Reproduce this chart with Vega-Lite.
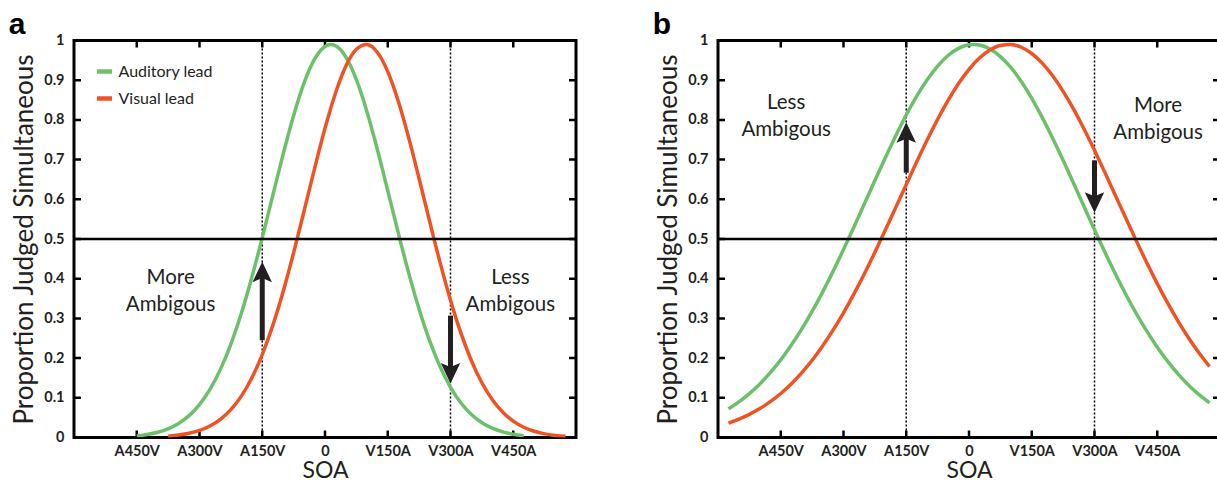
{
  "$schema": "https://vega.github.io/schema/vega-lite/v6.json",
  "padding": {"left": 8, "top": 9.5, "right": 0, "bottom": 0},
  "background": "white",
  "config": {
    "view": {"stroke": null},
    "axis": {
      "domain": false, "grid": false, "ticks": false,
      "labelFont": "Lato", "labelFontWeight": "bold", "labelFontSize": 14.5, "labelColor": "#231f20",
      "titleFont": "Lato", "titleFontWeight": "normal", "titleColor": "#231f20"
    },
    "title": {"font": "Liberation Sans", "fontSize": 30, "fontWeight": "bold", "color": "#000", "anchor": "start", "frame": "bounds", "offset": -7, "dx": -3}
  },
  "datasets": {
    "curves": [
      {"p":"a","s":"Auditory lead","x":-450,"y":0.0044},{"p":"a","s":"Auditory lead","x":-425,"y":0.0078},{"p":"a","s":"Auditory lead","x":-400,"y":0.0133},{"p":"a","s":"Auditory lead","x":-375,"y":0.022},{"p":"a","s":"Auditory lead","x":-350,"y":0.0354},{"p":"a","s":"Auditory lead","x":-325,"y":0.055},{"p":"a","s":"Auditory lead","x":-300,"y":0.0829},{"p":"a","s":"Auditory lead","x":-275,"y":0.1212},{"p":"a","s":"Auditory lead","x":-250,"y":0.1716},{"p":"a","s":"Auditory lead","x":-225,"y":0.2353},{"p":"a","s":"Auditory lead","x":-200,"y":0.3129},{"p":"a","s":"Auditory lead","x":-175,"y":0.4031},{"p":"a","s":"Auditory lead","x":-150,"y":0.5033},{"p":"a","s":"Auditory lead","x":-125,"y":0.609},{"p":"a","s":"Auditory lead","x":-100,"y":0.714},{"p":"a","s":"Auditory lead","x":-75,"y":0.8112},{"p":"a","s":"Auditory lead","x":-50,"y":0.8931},{"p":"a","s":"Auditory lead","x":-25,"y":0.9529},{"p":"a","s":"Auditory lead","x":0,"y":0.9851},{"p":"a","s":"Auditory lead","x":12.5,"y":0.99},{"p":"a","s":"Auditory lead","x":25,"y":0.987},{"p":"a","s":"Auditory lead","x":50,"y":0.9582},{"p":"a","s":"Auditory lead","x":75,"y":0.9016},{"p":"a","s":"Auditory lead","x":100,"y":0.822},{"p":"a","s":"Auditory lead","x":125,"y":0.7262},{"p":"a","s":"Auditory lead","x":150,"y":0.6218},{"p":"a","s":"Auditory lead","x":175,"y":0.5159},{"p":"a","s":"Auditory lead","x":200,"y":0.4147},{"p":"a","s":"Auditory lead","x":225,"y":0.3231},{"p":"a","s":"Auditory lead","x":250,"y":0.2439},{"p":"a","s":"Auditory lead","x":275,"y":0.1785},{"p":"a","s":"Auditory lead","x":300,"y":0.1265},{"p":"a","s":"Auditory lead","x":325,"y":0.0869},{"p":"a","s":"Auditory lead","x":350,"y":0.0579},{"p":"a","s":"Auditory lead","x":375,"y":0.0373},{"p":"a","s":"Auditory lead","x":400,"y":0.0234},{"p":"a","s":"Auditory lead","x":425,"y":0.0141},{"p":"a","s":"Auditory lead","x":450,"y":0.0083},{"p":"a","s":"Auditory lead","x":475,"y":0.0047},
      {"p":"a","s":"Visual lead","x":-375,"y":0.0034},{"p":"a","s":"Visual lead","x":-350,"y":0.0061},{"p":"a","s":"Visual lead","x":-325,"y":0.0105},{"p":"a","s":"Visual lead","x":-300,"y":0.0178},{"p":"a","s":"Visual lead","x":-275,"y":0.029},{"p":"a","s":"Visual lead","x":-250,"y":0.0459},{"p":"a","s":"Visual lead","x":-225,"y":0.0703},{"p":"a","s":"Visual lead","x":-200,"y":0.1043},{"p":"a","s":"Visual lead","x":-175,"y":0.15},{"p":"a","s":"Visual lead","x":-150,"y":0.2088},{"p":"a","s":"Visual lead","x":-125,"y":0.2817},{"p":"a","s":"Visual lead","x":-100,"y":0.3679},{"p":"a","s":"Visual lead","x":-75,"y":0.4654},{"p":"a","s":"Visual lead","x":-50,"y":0.5705},{"p":"a","s":"Visual lead","x":-25,"y":0.6773},{"p":"a","s":"Visual lead","x":0,"y":0.7788},{"p":"a","s":"Visual lead","x":25,"y":0.8673},{"p":"a","s":"Visual lead","x":50,"y":0.9358},{"p":"a","s":"Visual lead","x":75,"y":0.9778},{"p":"a","s":"Visual lead","x":100,"y":0.9898},{"p":"a","s":"Visual lead","x":125,"y":0.9704},{"p":"a","s":"Visual lead","x":150,"y":0.9216},{"p":"a","s":"Visual lead","x":175,"y":0.8476},{"p":"a","s":"Visual lead","x":200,"y":0.7553},{"p":"a","s":"Visual lead","x":225,"y":0.6518},{"p":"a","s":"Visual lead","x":250,"y":0.5449},{"p":"a","s":"Visual lead","x":275,"y":0.4411},{"p":"a","s":"Visual lead","x":300,"y":0.346},{"p":"a","s":"Visual lead","x":325,"y":0.2628},{"p":"a","s":"Visual lead","x":350,"y":0.1934},{"p":"a","s":"Visual lead","x":375,"y":0.1378},{"p":"a","s":"Visual lead","x":400,"y":0.0951},{"p":"a","s":"Visual lead","x":425,"y":0.0637},{"p":"a","s":"Visual lead","x":450,"y":0.0412},{"p":"a","s":"Visual lead","x":475,"y":0.0259},{"p":"a","s":"Visual lead","x":500,"y":0.0157},{"p":"a","s":"Visual lead","x":525,"y":0.0092},{"p":"a","s":"Visual lead","x":550,"y":0.0053},{"p":"a","s":"Visual lead","x":575,"y":0.0029},
      {"p":"b","s":"Auditory lead","x":-575,"y":0.0721},{"p":"b","s":"Auditory lead","x":-550,"y":0.0897},{"p":"b","s":"Auditory lead","x":-525,"y":0.1106},{"p":"b","s":"Auditory lead","x":-500,"y":0.135},{"p":"b","s":"Auditory lead","x":-475,"y":0.1634},{"p":"b","s":"Auditory lead","x":-450,"y":0.1956},{"p":"b","s":"Auditory lead","x":-425,"y":0.2322},{"p":"b","s":"Auditory lead","x":-400,"y":0.2728},{"p":"b","s":"Auditory lead","x":-375,"y":0.3176},{"p":"b","s":"Auditory lead","x":-350,"y":0.3663},{"p":"b","s":"Auditory lead","x":-325,"y":0.4184},{"p":"b","s":"Auditory lead","x":-300,"y":0.4733},{"p":"b","s":"Auditory lead","x":-275,"y":0.5303},{"p":"b","s":"Auditory lead","x":-250,"y":0.5888},{"p":"b","s":"Auditory lead","x":-225,"y":0.6473},{"p":"b","s":"Auditory lead","x":-200,"y":0.7049},{"p":"b","s":"Auditory lead","x":-175,"y":0.7603},{"p":"b","s":"Auditory lead","x":-150,"y":0.8124},{"p":"b","s":"Auditory lead","x":-125,"y":0.8597},{"p":"b","s":"Auditory lead","x":-100,"y":0.9012},{"p":"b","s":"Auditory lead","x":-75,"y":0.9357},{"p":"b","s":"Auditory lead","x":-50,"y":0.9623},{"p":"b","s":"Auditory lead","x":-25,"y":0.9803},{"p":"b","s":"Auditory lead","x":0,"y":0.9891},{"p":"b","s":"Auditory lead","x":12,"y":0.99},{"p":"b","s":"Auditory lead","x":25,"y":0.9885},{"p":"b","s":"Auditory lead","x":50,"y":0.9786},{"p":"b","s":"Auditory lead","x":75,"y":0.9595},{"p":"b","s":"Auditory lead","x":100,"y":0.932},{"p":"b","s":"Auditory lead","x":125,"y":0.8966},{"p":"b","s":"Auditory lead","x":150,"y":0.8543},{"p":"b","s":"Auditory lead","x":175,"y":0.8064},{"p":"b","s":"Auditory lead","x":200,"y":0.7539},{"p":"b","s":"Auditory lead","x":225,"y":0.6981},{"p":"b","s":"Auditory lead","x":250,"y":0.6403},{"p":"b","s":"Auditory lead","x":275,"y":0.5817},{"p":"b","s":"Auditory lead","x":300,"y":0.5235},{"p":"b","s":"Auditory lead","x":325,"y":0.4666},{"p":"b","s":"Auditory lead","x":350,"y":0.4119},{"p":"b","s":"Auditory lead","x":375,"y":0.3603},{"p":"b","s":"Auditory lead","x":400,"y":0.3121},{"p":"b","s":"Auditory lead","x":425,"y":0.2678},{"p":"b","s":"Auditory lead","x":450,"y":0.2275},{"p":"b","s":"Auditory lead","x":475,"y":0.1916},{"p":"b","s":"Auditory lead","x":500,"y":0.1597},{"p":"b","s":"Auditory lead","x":525,"y":0.1319},{"p":"b","s":"Auditory lead","x":550,"y":0.1079},{"p":"b","s":"Auditory lead","x":575,"y":0.0874},
      {"p":"b","s":"Visual lead","x":-575,"y":0.0361},{"p":"b","s":"Visual lead","x":-550,"y":0.0461},{"p":"b","s":"Visual lead","x":-525,"y":0.0582},{"p":"b","s":"Visual lead","x":-500,"y":0.0728},{"p":"b","s":"Visual lead","x":-475,"y":0.0903},{"p":"b","s":"Visual lead","x":-450,"y":0.1109},{"p":"b","s":"Visual lead","x":-425,"y":0.135},{"p":"b","s":"Visual lead","x":-400,"y":0.1629},{"p":"b","s":"Visual lead","x":-375,"y":0.1945},{"p":"b","s":"Visual lead","x":-350,"y":0.2304},{"p":"b","s":"Visual lead","x":-325,"y":0.2703},{"p":"b","s":"Visual lead","x":-300,"y":0.314},{"p":"b","s":"Visual lead","x":-275,"y":0.3616},{"p":"b","s":"Visual lead","x":-250,"y":0.4125},{"p":"b","s":"Visual lead","x":-225,"y":0.4664},{"p":"b","s":"Visual lead","x":-200,"y":0.5224},{"p":"b","s":"Visual lead","x":-175,"y":0.5797},{"p":"b","s":"Visual lead","x":-150,"y":0.6374},{"p":"b","s":"Visual lead","x":-125,"y":0.6944},{"p":"b","s":"Visual lead","x":-100,"y":0.7494},{"p":"b","s":"Visual lead","x":-75,"y":0.8014},{"p":"b","s":"Visual lead","x":-50,"y":0.8492},{"p":"b","s":"Visual lead","x":-25,"y":0.8916},{"p":"b","s":"Visual lead","x":0,"y":0.9273},{"p":"b","s":"Visual lead","x":25,"y":0.9557},{"p":"b","s":"Visual lead","x":50,"y":0.9759},{"p":"b","s":"Visual lead","x":75,"y":0.9873},{"p":"b","s":"Visual lead","x":100,"y":0.9897},{"p":"b","s":"Visual lead","x":125,"y":0.983},{"p":"b","s":"Visual lead","x":150,"y":0.9673},{"p":"b","s":"Visual lead","x":175,"y":0.9431},{"p":"b","s":"Visual lead","x":200,"y":0.9111},{"p":"b","s":"Visual lead","x":225,"y":0.872},{"p":"b","s":"Visual lead","x":250,"y":0.827},{"p":"b","s":"Visual lead","x":275,"y":0.777},{"p":"b","s":"Visual lead","x":300,"y":0.7233},{"p":"b","s":"Visual lead","x":325,"y":0.6672},{"p":"b","s":"Visual lead","x":350,"y":0.6097},{"p":"b","s":"Visual lead","x":375,"y":0.5521},{"p":"b","s":"Visual lead","x":400,"y":0.4953},{"p":"b","s":"Visual lead","x":425,"y":0.4402},{"p":"b","s":"Visual lead","x":450,"y":0.3877},{"p":"b","s":"Visual lead","x":475,"y":0.3383},{"p":"b","s":"Visual lead","x":500,"y":0.2925},{"p":"b","s":"Visual lead","x":525,"y":0.2506},{"p":"b","s":"Visual lead","x":550,"y":0.2127},{"p":"b","s":"Visual lead","x":575,"y":0.1788}
    ],
    "vlines": [
      {"p":"a","x":-150},{"p":"a","x":300},{"p":"b","x":-150},{"p":"b","x":300}
    ],
    "hlines": [
      {"p":"a","y":0.5},{"p":"b","y":0.5}
    ],
    "arrows": [
      {"p":"a","x":-150,"tail":0.245,"head":0.417,"dir":"up"},
      {"p":"a","x":300,"tail":0.307,"head":0.162,"dir":"down"},
      {"p":"b","x":-150,"tail":0.667,"head":0.768,"dir":"up"},
      {"p":"b","x":300,"tail":0.698,"head":0.592,"dir":"down"}
    ],
    "notes": [
      {"p":"a","x":-369,"y":0.403,"t":"More\nAmbigous"},
      {"p":"a","x":443,"y":0.403,"t":"Less\nAmbigous"},
      {"p":"b","x":-437,"y":0.842,"t":"Less\nAmbigous"},
      {"p":"b","x":452,"y":0.836,"t":"More\nAmbigous"}
    ]
  },
  "spacing": 142,
  "bounds": "flush",
  "resolve": {"scale": {"color": "independent"}, "legend": {"color": "independent"}},
  "hconcat": [
    {
      "width": 502, "height": 397,
      "title": {"text": "a"},
      "resolve": {"axis": {"x": "independent", "y": "independent"}},
      "layer": [
        {
          "data": {"values": [{"x0": -600, "x1": 600, "y0": 0, "y1": 1}]},
          "mark": {"type": "rect", "fill": null, "stroke": "#000000", "strokeWidth": 3},
          "encoding": {
            "x": {"field": "x0", "type": "quantitative", "axis": null},
            "x2": {"field": "x1"},
            "y": {"field": "y0", "type": "quantitative", "axis": null},
            "y2": {"field": "y1"}
          }
        },
        {
          "data": {"values": [{"v": -450}, {"v": -300}, {"v": -150}, {"v": 0}, {"v": 150}, {"v": 300}, {"v": 450}]},
          "mark": {"type": "tick", "orient": "vertical", "size": 14, "thickness": 2.5, "fill": "#000000", "opacity": 1, "clip": true},
          "encoding": {
            "x": {"field": "v", "type": "quantitative", "axis": null},
            "y": {"datum": 0, "type": "quantitative", "axis": null}
          }
        },
        {
          "data": {"values": [{"v": -450}, {"v": -300}, {"v": -150}, {"v": 0}, {"v": 150}, {"v": 300}, {"v": 450}]},
          "mark": {"type": "tick", "orient": "vertical", "size": 14, "thickness": 2.5, "fill": "#000000", "opacity": 1, "clip": true},
          "encoding": {
            "x": {"field": "v", "type": "quantitative", "axis": null},
            "y": {"datum": 1, "type": "quantitative", "axis": null}
          }
        },
        {
          "data": {"values": [{"v": 0.1}, {"v": 0.2}, {"v": 0.3}, {"v": 0.4}, {"v": 0.5}, {"v": 0.6}, {"v": 0.7}, {"v": 0.8}, {"v": 0.9}]},
          "mark": {"type": "tick", "orient": "horizontal", "size": 14, "thickness": 2.5, "fill": "#000000", "opacity": 1, "clip": true},
          "encoding": {
            "y": {"field": "v", "type": "quantitative", "axis": null},
            "x": {"datum": -600, "type": "quantitative", "axis": null}
          }
        },
        {
          "data": {"values": [{"v": 0.1}, {"v": 0.2}, {"v": 0.3}, {"v": 0.4}, {"v": 0.5}, {"v": 0.6}, {"v": 0.7}, {"v": 0.8}, {"v": 0.9}]},
          "mark": {"type": "tick", "orient": "horizontal", "size": 14, "thickness": 2.5, "fill": "#000000", "opacity": 1, "clip": true},
          "encoding": {
            "y": {"field": "v", "type": "quantitative", "axis": null},
            "x": {"datum": 600, "type": "quantitative", "axis": null}
          }
        },
        {
          "data": {"name": "vlines"},
          "transform": [{"filter": "datum.p === 'a'"}],
          "mark": {"type": "rule", "strokeWidth": 1.5, "strokeDash": [2, 2], "color": "#000"},
          "encoding": {
            "x": {"field": "x", "type": "quantitative", "scale": {"domain": [-600, 600], "nice": false, "zero": false}, "axis": null}
          }
        },
        {
          "data": {"name": "curves"},
          "transform": [{"filter": "datum.p === 'a'"}],
          "mark": {"type": "line", "strokeWidth": 3.5, "interpolate": "monotone", "clip": true},
          "encoding": {
            "x": {"field": "x", "type": "quantitative", "scale": {"domain": [-600, 600], "nice": false, "zero": false},
              "axis": {"orient": "bottom", "values": [-450, -300, -150, 0, 150, 300, 450], "labelPadding": 7, "title": "SOA", "titlePadding": 1, "titleFontSize": 23,
                "labelExpr": "datum.value < 0 ? 'A' + (-datum.value) + 'V' : (datum.value > 0 ? 'V' + datum.value + 'A' : '0')"}},
            "y": {"field": "y", "type": "quantitative", "scale": {"domain": [0, 1], "nice": false},
              "axis": {"orient": "left", "values": [0, 0.1, 0.2, 0.3, 0.4, 0.5, 0.6, 0.7, 0.8, 0.9, 1], "format": ".1~f", "labelPadding": 10, "title": "Proportion Judged Simultaneous", "titlePadding": 6, "titleFontSize": 26}},
            "color": {"field": "s", "type": "nominal",
              "scale": {"domain": ["Auditory lead", "Visual lead"], "range": ["#6cc06a", "#f05323"]},
              "legend": {"orient": "none", "legendX": 20.5, "legendY": 21, "title": null, "symbolType": "stroke", "symbolStrokeWidth": 4.5, "symbolSize": 225,
                "labelFont": "Lato", "labelFontSize": 16, "labelColor": "#231f20", "labelOffset": 4, "rowPadding": 8, "padding": 0}}
          }
        },
        {
          "data": {"name": "hlines"},
          "transform": [{"filter": "datum.p === 'a'"}],
          "mark": {"type": "rule", "strokeWidth": 2.5, "color": "#000"},
          "encoding": {
            "y": {"field": "y", "type": "quantitative", "scale": {"domain": [0, 1], "nice": false}, "axis": null}
          }
        },
        {
          "data": {"name": "arrows"},
          "transform": [{"filter": "datum.p === 'a'"}],
          "mark": {"type": "rule", "strokeWidth": 5, "color": "#231f20"},
          "encoding": {
            "x": {"field": "x", "type": "quantitative", "axis": null},
            "y": {"field": "tail", "type": "quantitative", "axis": null},
            "y2": {"field": "head"}
          }
        },
        {
          "data": {"name": "arrows"},
          "transform": [{"filter": "datum.p === 'a'"}],
          "mark": {"type": "point", "filled": true, "size": 420, "opacity": 1, "color": "#231f20", "strokeWidth": 0},
          "encoding": {
            "x": {"field": "x", "type": "quantitative", "axis": null},
            "y": {"field": "head", "type": "quantitative", "axis": null},
            "shape": {"field": "dir", "type": "nominal", "legend": null,
              "scale": {"domain": ["up", "down"], "range": ["M0,-1L0.95,1L0,0.6L-0.95,1Z", "M0,1L0.95,-1L0,-0.6L-0.95,-1Z"]}}
          }
        },
        {
          "data": {"name": "notes"},
          "transform": [{"filter": "datum.p === 'a'"}],
          "mark": {"type": "text", "font": "Lato", "fontSize": 20.5, "color": "#231f20", "align": "center", "baseline": "middle", "lineBreak": "\n", "lineHeight": 27},
          "encoding": {
            "x": {"field": "x", "type": "quantitative", "axis": null},
            "y": {"field": "y", "type": "quantitative", "axis": null},
            "text": {"field": "t"}
          }
        }
      ]
    },
    {
      "width": 502, "height": 397,
      "title": {"text": "b"},
      "resolve": {"axis": {"x": "independent", "y": "independent"}},
      "layer": [
        {
          "data": {"values": [{"x0": -600, "x1": 600, "y0": 0, "y1": 1}]},
          "mark": {"type": "rect", "fill": null, "stroke": "#000000", "strokeWidth": 3},
          "encoding": {
            "x": {"field": "x0", "type": "quantitative", "axis": null},
            "x2": {"field": "x1"},
            "y": {"field": "y0", "type": "quantitative", "axis": null},
            "y2": {"field": "y1"}
          }
        },
        {
          "data": {"values": [{"v": -450}, {"v": -300}, {"v": -150}, {"v": 0}, {"v": 150}, {"v": 300}, {"v": 450}]},
          "mark": {"type": "tick", "orient": "vertical", "size": 14, "thickness": 2.5, "fill": "#000000", "opacity": 1, "clip": true},
          "encoding": {
            "x": {"field": "v", "type": "quantitative", "axis": null},
            "y": {"datum": 0, "type": "quantitative", "axis": null}
          }
        },
        {
          "data": {"values": [{"v": -450}, {"v": -300}, {"v": -150}, {"v": 0}, {"v": 150}, {"v": 300}, {"v": 450}]},
          "mark": {"type": "tick", "orient": "vertical", "size": 14, "thickness": 2.5, "fill": "#000000", "opacity": 1, "clip": true},
          "encoding": {
            "x": {"field": "v", "type": "quantitative", "axis": null},
            "y": {"datum": 1, "type": "quantitative", "axis": null}
          }
        },
        {
          "data": {"values": [{"v": 0.1}, {"v": 0.2}, {"v": 0.3}, {"v": 0.4}, {"v": 0.5}, {"v": 0.6}, {"v": 0.7}, {"v": 0.8}, {"v": 0.9}]},
          "mark": {"type": "tick", "orient": "horizontal", "size": 14, "thickness": 2.5, "fill": "#000000", "opacity": 1, "clip": true},
          "encoding": {
            "y": {"field": "v", "type": "quantitative", "axis": null},
            "x": {"datum": -600, "type": "quantitative", "axis": null}
          }
        },
        {
          "data": {"values": [{"v": 0.1}, {"v": 0.2}, {"v": 0.3}, {"v": 0.4}, {"v": 0.5}, {"v": 0.6}, {"v": 0.7}, {"v": 0.8}, {"v": 0.9}]},
          "mark": {"type": "tick", "orient": "horizontal", "size": 14, "thickness": 2.5, "fill": "#000000", "opacity": 1, "clip": true},
          "encoding": {
            "y": {"field": "v", "type": "quantitative", "axis": null},
            "x": {"datum": 600, "type": "quantitative", "axis": null}
          }
        },
        {
          "data": {"name": "vlines"},
          "transform": [{"filter": "datum.p === 'b'"}],
          "mark": {"type": "rule", "strokeWidth": 1.5, "strokeDash": [2, 2], "color": "#000"},
          "encoding": {
            "x": {"field": "x", "type": "quantitative", "scale": {"domain": [-600, 600], "nice": false, "zero": false}, "axis": null}
          }
        },
        {
          "data": {"name": "curves"},
          "transform": [{"filter": "datum.p === 'b'"}],
          "mark": {"type": "line", "strokeWidth": 3.5, "interpolate": "monotone", "clip": true},
          "encoding": {
            "x": {"field": "x", "type": "quantitative", "scale": {"domain": [-600, 600], "nice": false, "zero": false},
              "axis": {"orient": "bottom", "values": [-450, -300, -150, 0, 150, 300, 450], "labelPadding": 7, "title": "SOA", "titlePadding": 1, "titleFontSize": 23,
                "labelExpr": "datum.value < 0 ? 'A' + (-datum.value) + 'V' : (datum.value > 0 ? 'V' + datum.value + 'A' : '0')"}},
            "y": {"field": "y", "type": "quantitative", "scale": {"domain": [0, 1], "nice": false},
              "axis": {"orient": "left", "values": [0, 0.1, 0.2, 0.3, 0.4, 0.5, 0.6, 0.7, 0.8, 0.9, 1], "format": ".1~f", "labelPadding": 10, "title": "Proportion Judged Simultaneous", "titlePadding": 6, "titleFontSize": 26}},
            "color": {"field": "s", "type": "nominal",
              "scale": {"domain": ["Auditory lead", "Visual lead"], "range": ["#6cc06a", "#f05323"]},
              "legend": null}
          }
        },
        {
          "data": {"name": "hlines"},
          "transform": [{"filter": "datum.p === 'b'"}],
          "mark": {"type": "rule", "strokeWidth": 2.5, "color": "#000"},
          "encoding": {
            "y": {"field": "y", "type": "quantitative", "scale": {"domain": [0, 1], "nice": false}, "axis": null}
          }
        },
        {
          "data": {"name": "arrows"},
          "transform": [{"filter": "datum.p === 'b'"}],
          "mark": {"type": "rule", "strokeWidth": 5, "color": "#231f20"},
          "encoding": {
            "x": {"field": "x", "type": "quantitative", "axis": null},
            "y": {"field": "tail", "type": "quantitative", "axis": null},
            "y2": {"field": "head"}
          }
        },
        {
          "data": {"name": "arrows"},
          "transform": [{"filter": "datum.p === 'b'"}],
          "mark": {"type": "point", "filled": true, "size": 420, "opacity": 1, "color": "#231f20", "strokeWidth": 0},
          "encoding": {
            "x": {"field": "x", "type": "quantitative", "axis": null},
            "y": {"field": "head", "type": "quantitative", "axis": null},
            "shape": {"field": "dir", "type": "nominal", "legend": null,
              "scale": {"domain": ["up", "down"], "range": ["M0,-1L0.95,1L0,0.6L-0.95,1Z", "M0,1L0.95,-1L0,-0.6L-0.95,-1Z"]}}
          }
        },
        {
          "data": {"name": "notes"},
          "transform": [{"filter": "datum.p === 'b'"}],
          "mark": {"type": "text", "font": "Lato", "fontSize": 20.5, "color": "#231f20", "align": "center", "baseline": "middle", "lineBreak": "\n", "lineHeight": 27},
          "encoding": {
            "x": {"field": "x", "type": "quantitative", "axis": null},
            "y": {"field": "y", "type": "quantitative", "axis": null},
            "text": {"field": "t"}
          }
        }
      ]
    }
  ]
}
